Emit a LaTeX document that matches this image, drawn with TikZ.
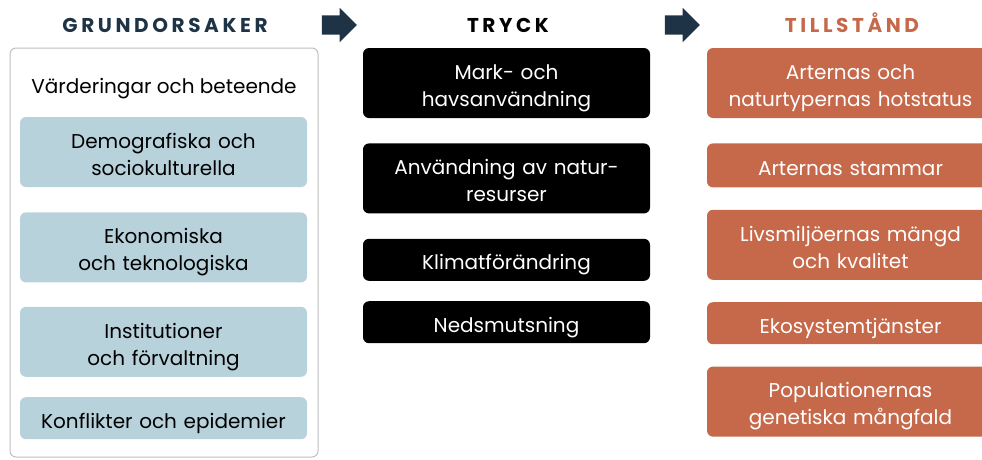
\documentclass[tikz,border=0pt]{standalone}
\usepackage{fontspec}
\setmainfont{Poppins}
\usetikzlibrary{positioning,shapes.arrows}
\definecolor{navy}{HTML}{1E3446}
\definecolor{ljusbla}{HTML}{B8D2DC}
\definecolor{rost}{HTML}{C6684A}
\tikzset{
  rubrik/.style={anchor=base, font=\fontsize{20}{22}\selectfont\bfseries\addfontfeature{LetterSpace=18}},
  ruta/.style={rounded corners=6pt, minimum width=287pt, minimum height=42pt,
    text width=284pt, align=center, inner sep=0pt, text height=20pt, text depth=0pt,
    font=\fontsize{20}{27}\selectfont},
  orsak/.style={ruta, fill=ljusbla, text=black},
  tryck/.style={ruta, fill=black, text=white},
  tillstand/.style={ruta, fill=rost, text=white},
  hog/.style={minimum height=70pt, text height=15pt, text depth=22.5pt},
  pil/.style={single arrow, fill=navy, inner sep=0pt,
    minimum height=35pt, single arrow head extend=7.5pt, single arrow head indent=0pt}
}
\begin{document}
\begin{tikzpicture}[x=1pt,y=-1pt]
  \useasboundingbox (0,0) rectangle (982,459);
  % rubriker
  \node[rubrik, text=navy] (grund) at (165,32) {GRUNDORSAKER};
  \node[rubrik, text=black] (tryckrub) at (508,32) {TRYCK};
  \node[rubrik, text=rost] (tillrub) at (852,32) {TILLSTÅND};
  \node[pil] (pil1) at (334.5,25) {\rule{0pt}{19pt}};
  \node[pil] (pil2) at (677.5,25) {\rule{0pt}{19pt}};
  % grundorsaker
  \draw[rounded corners=6pt, draw=black!25, line width=1pt] (10,48) rectangle (318,457);
  \node[anchor=base, font=\fontsize{20}{27}\selectfont] (varde) at (164,93) {Värderingar och beteende};
  \node[orsak, hog] (demo) at (163.5,152) {Demografiska och\\sociokulturella};
  \node[orsak, hog] (ekon) [below=25pt of demo] {Ekonomiska\\och teknologiska};
  \node[orsak, hog] (inst) [below=24pt of ekon] {Institutioner\\och förvaltning};
  \node[orsak] (konf) [below=20pt of inst] {Konflikter och epidemier};
  % tryck
  \node[tryck, hog] (mark) at (506.5,83) {Mark- och\\havsanvändning};
  \node[tryck, hog] (natur) [below=25pt of mark] {Användning av natur-\\resurser};
  \node[tryck] (klimat) [below=25pt of natur] {Klimatförändring};
  \node[tryck] (nedsm) [below=20pt of klimat] {Nedsmutsning};
  % tillstånd
  \node[tillstand, hog] (hot) at (850.5,83) {Arternas och\\naturtypernas hotstatus};
  \node[tillstand, minimum height=44pt] (stam) [below=25pt of hot] {Arternas stammar};
  \node[tillstand, hog] (livs) [below=22pt of stam] {Livsmiljöernas mängd\\och kvalitet};
  \node[tillstand] (eko) [below=22pt of livs] {Ekosystemtjänster};
  \node[tillstand, hog] (pop) [below=22pt of eko] {Populationernas\\genetiska mångfald};
\end{tikzpicture}
\end{document}
